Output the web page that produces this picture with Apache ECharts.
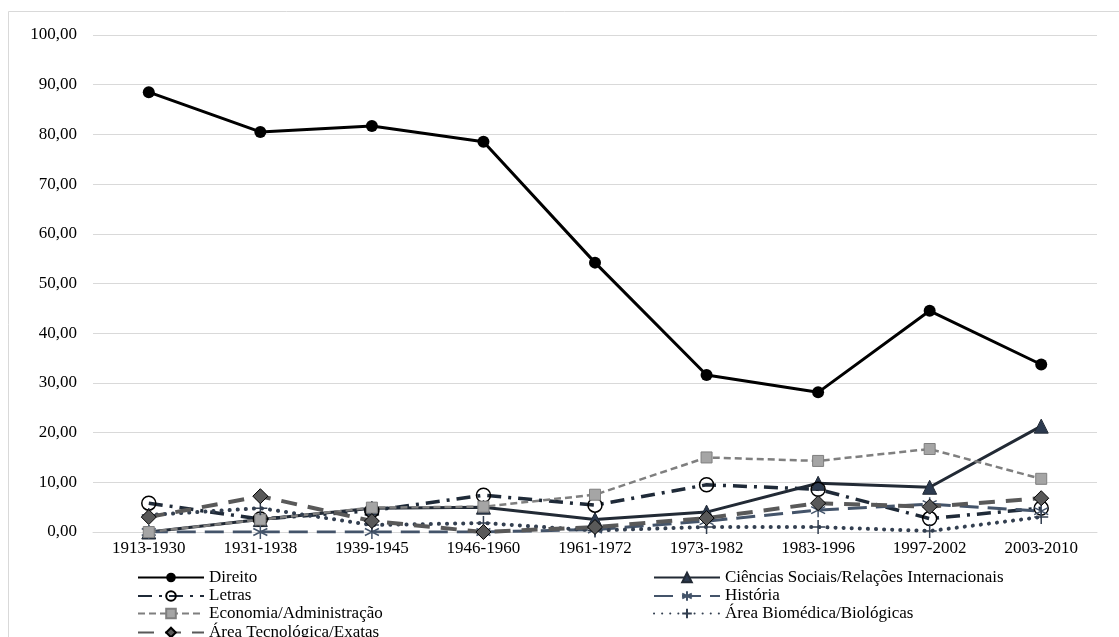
<!DOCTYPE html>
<html>
<head>
<meta charset="utf-8">
<script src="https://cdn.jsdelivr.net/npm/echarts@6/dist/echarts.min.js"></script>
<style>
  html, body { margin: 0; padding: 0; background: #fff; }
  #chart { width: 1119px; height: 637px; }
</style>
</head>
<body>
<div id="chart"></div>
<script>
// Periods on the horizontal axis
const periods = ['1913-1930', '1931-1938', '1939-1945', '1946-1960', '1961-1972',
                 '1973-1982', '1983-1996', '1997-2002', '2003-2010'];

// Share (%) per area of study, one array per series
const direito      = [88.5, 80.5, 81.7, 78.5, 54.2, 31.6, 28.1, 44.5, 33.7];
const cienciasSoc  = [0.0, 2.5, 4.8, 5.0, 2.5, 4.0, 9.8, 9.0, 21.3];
const letras       = [5.8, 2.6, 4.3, 7.4, 5.4, 9.5, 8.6, 2.7, 4.8];
const historia     = [0.0, 0.0, 0.0, 0.0, 0.5, 2.2, 4.4, 5.6, 4.2];
const economia     = [0.0, 2.5, 4.9, 5.1, 7.5, 15.0, 14.3, 16.7, 10.7];
const biomedica    = [3.4, 4.8, 1.4, 1.8, 0.3, 1.0, 1.0, 0.2, 3.0];
const tecnologica  = [3.0, 7.2, 2.2, 0.0, 1.0, 2.8, 5.8, 5.1, 6.8];

// Y axis range
const yMin = 0, yMax = 100, yStep = 10;

const serif = '"Liberation Serif", "DejaVu Serif", serif';

// Marker outlines drawn as stroked paths
const asterisk = 'path://M0,-10L0,10M-8.7,-5L8.7,5M-8.7,5L8.7,-5';
const plus = 'path://M0,-10L0,10M-7,0L7,0';

// Legend: two columns, four rows; one legend box per entry
const legendEntries = [
  { name: 'Direito', col: 0, row: 0 },
  { name: 'Ciências Sociais/Relações Internacionais', col: 1, row: 0 },
  { name: 'Letras', col: 0, row: 1 },
  { name: 'História', col: 1, row: 1 },
  { name: 'Economia/Administração', col: 0, row: 2 },
  { name: 'Área Biomédica/Biológicas', col: 1, row: 2 },
  { name: 'Área Tecnológica/Exatas', col: 0, row: 3 }
];
const legendColX = [137, 653];
const legendRowY = [569, 587.5, 605, 624];

const chart = echarts.init(document.getElementById('chart'), null, { renderer: 'canvas' });

chart.setOption({
  backgroundColor: '#ffffff',
  animation: false,
  graphic: [{
    type: 'rect',
    shape: { x: 8.5, y: 11.5, width: 1200, height: 700 },
    style: { fill: 'none', stroke: '#d9d9d9', lineWidth: 1 },
    silent: true
  }],
  grid: { left: 93, right: 22, top: 35, bottom: 105, containLabel: false },
  xAxis: {
    type: 'category',
    data: periods,
    boundaryGap: true,
    axisLine: { show: true, lineStyle: { color: '#d9d9d9', width: 1 } },
    axisTick: { show: false },
    axisLabel: { color: '#000', fontFamily: serif, fontSize: 17, margin: 8 }
  },
  yAxis: {
    type: 'value',
    min: yMin, max: yMax, interval: yStep,
    axisLine: { show: false },
    axisTick: { show: false },
    splitLine: { lineStyle: { color: '#d9d9d9', width: 1 } },
    axisLabel: {
      color: '#000', fontFamily: serif, fontSize: 17, margin: 16,
      formatter: v => v.toFixed(2).replace('.', ',')
    }
  },
  legend: legendEntries.map(e => ({
    orient: 'horizontal',
    left: legendColX[e.col], top: legendRowY[e.row], padding: 0,
    itemWidth: 66, itemHeight: 12, itemGap: 0,
    textStyle: { color: '#000', fontFamily: serif, fontSize: 17, lineHeight: 12 },
    data: [e.name]
  })),
  series: [{
    name: 'Direito', type: 'line', data: direito,
    symbol: 'circle', symbolSize: 12,
    lineStyle: { color: '#000', width: 3 },
    itemStyle: { color: '#000' }
  }, {
    name: 'Ciências Sociais/Relações Internacionais', type: 'line', data: cienciasSoc,
    symbol: 'triangle', symbolSize: 14,
    lineStyle: { color: '#222a35', width: 3 },
    itemStyle: { color: '#2c3a4f', borderColor: '#222a35', borderWidth: 1 }
  }, {
    name: 'Letras', type: 'line', data: letras,
    symbol: 'circle', symbolSize: 14,
    lineStyle: { color: '#1f2a38', width: 3.5, type: [14, 7, 3, 7] },
    itemStyle: { color: 'rgba(255,255,255,0)', borderColor: '#000', borderWidth: 1.5 }
  }, {
    name: 'História', type: 'line', data: historia,
    symbol: asterisk, symbolSize: 14,
    lineStyle: { color: '#44546a', width: 3, type: [19, 9] },
    itemStyle: { color: 'none', borderColor: '#44546a', borderWidth: 1.5 }
  }, {
    name: 'Economia/Administração', type: 'line', data: economia,
    symbol: 'rect', symbolSize: 11,
    lineStyle: { color: '#7f7f7f', width: 2.5, type: [7, 4] },
    itemStyle: { color: '#a5a5a5', borderColor: '#7f7f7f', borderWidth: 1 }
  }, {
    name: 'Área Biomédica/Biológicas', type: 'line', data: biomedica,
    symbol: plus, symbolSize: 14,
    lineStyle: { color: '#333f50', width: 4, type: [0.1, 8], cap: 'round' },
    itemStyle: { color: 'none', borderColor: '#333f50', borderWidth: 1.5 }
  }, {
    name: 'Área Tecnológica/Exatas', type: 'line', data: tecnologica,
    symbol: 'diamond', symbolSize: 15,
    lineStyle: { color: '#595959', width: 4, type: [16, 11] },
    itemStyle: { color: '#595959', borderColor: '#000', borderWidth: 1 }
  }]
});
</script>
</body>
</html>
